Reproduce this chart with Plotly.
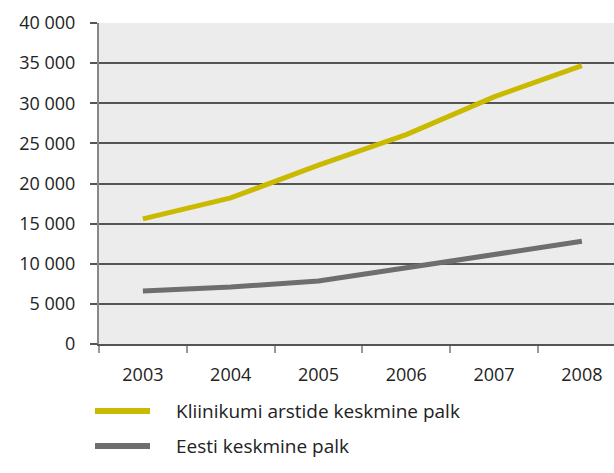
import plotly.graph_objects as go

years = ["2003", "2004", "2005", "2006", "2007", "2008"]
kliinikum = [15600, 18200, 22300, 26100, 30800, 34700]
eesti = [6600, 7100, 7850, 9500, 11200, 12800]
series_names = ["Kliinikumi arstide keskmine palk", "Eesti keskmine palk"]
y_ticks = [0, 5000, 10000, 15000, 20000, 25000, 30000, 35000, 40000]
y_ticktext = ["0", "5 000", "10 000", "15 000", "20 000", "25 000", "30 000", "35 000", "40 000"]

colors = ["#c9ba00", "#6e6e6e"]
font = "Open Sans, Liberation Sans, sans-serif"

fig = go.Figure()
for name, vals, c in zip(series_names, [kliinikum, eesti], colors):
    fig.add_trace(go.Scatter(x=years, y=vals, mode="lines", name=name,
                             line=dict(color=c, width=5), showlegend=False))

fig.update_layout(
    width=614, height=473,
    margin=dict(l=99, r=0, t=23, b=129),
    paper_bgcolor="white", plot_bgcolor="#ececec",
    font=dict(family=font, size=18, color="#222222"),
    xaxis=dict(type="category", range=[-0.5, 5.366], tickson="boundaries",
               ticks="outside", ticklen=7, tickcolor="#999999", tickwidth=1.5,
               showgrid=False, showline=True, linecolor="#555555", linewidth=1.5,
               tickfont=dict(size=18), ticklabelstandoff=14),
    yaxis=dict(range=[0, 40000], tickvals=y_ticks, ticktext=y_ticktext,
               ticks="outside", ticklen=7, tickcolor="#555555", tickwidth=1.5,
               showgrid=True, gridcolor="#555555", gridwidth=1.5,
               showline=True, linecolor="#888888", linewidth=2,
               zeroline=False, tickfont=dict(size=18), ticklabelstandoff=11),
)

leg_y = [411, 446]
for name, c, yy in zip(series_names, colors, leg_y):
    fig.add_shape(type="line", xref="paper", yref="paper",
                  x0=(95 - 99) / 515, x1=(150 - 99) / 515, y0=(473 - yy - 129) / 321,
                  y1=(473 - yy - 129) / 321, line=dict(color=c, width=6))
    fig.add_annotation(xref="paper", yref="paper", x=(174 - 99) / 515,
                       y=(473 - yy - 129) / 321, text=name, showarrow=False,
                       xanchor="left", yanchor="middle", font=dict(size=19, color="#222222"))

fig.write_html("out.html")
